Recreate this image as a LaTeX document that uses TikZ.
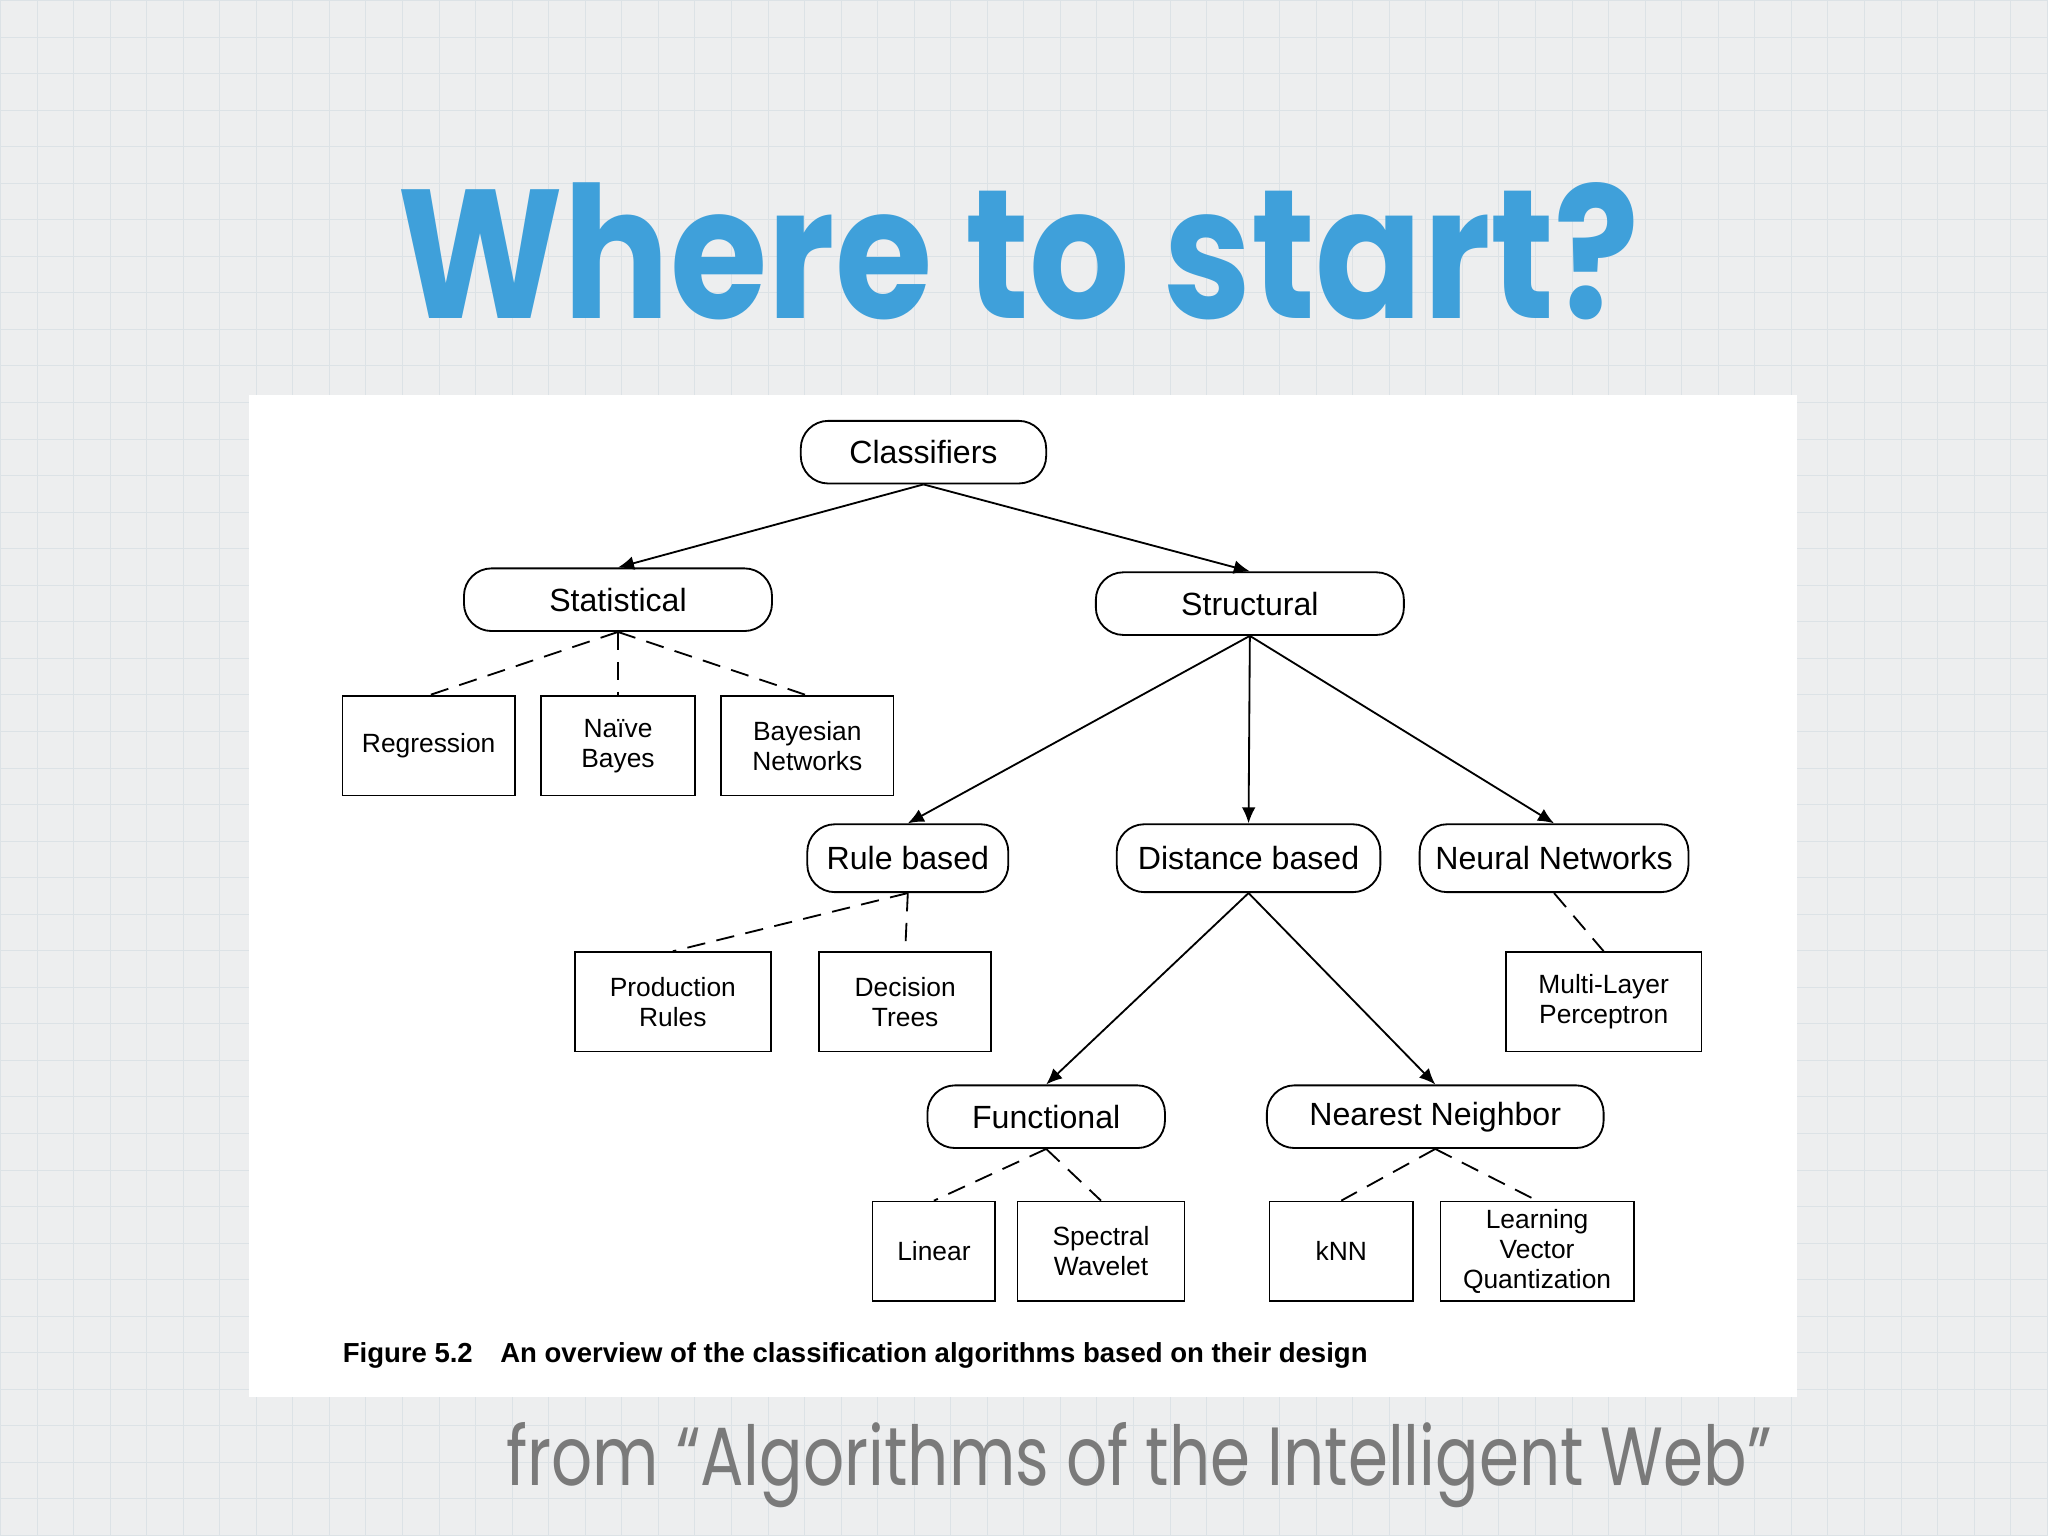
\documentclass[tikz,border=0pt]{standalone}
\usepackage{fontspec}
\setmainfont{Liberation Sans}
\newfontfamily\titlefont{Poppins}
\usetikzlibrary{arrows.meta}
\definecolor{bgc}{HTML}{EDEEEF}
\definecolor{gridc}{HTML}{DCE2E6}
\definecolor{titc}{HTML}{3FA0DA}
\definecolor{footc}{HTML}{7A7A7A}
\begin{document}
\begin{tikzpicture}[x=0.02cm,y=-0.02cm,
 rnode/.style={draw,thick,rounded corners=12pt,minimum height=0.96cm,font=\fontsize{14}{16}\selectfont,inner sep=0pt},
 leaf/.style={draw,thick,minimum height=1.52cm,font=\fontsize{11.5}{13}\selectfont,align=center,inner sep=0pt},
 arr/.style={thick,-{Latex[length=7pt,width=6pt]}},
 dsh/.style={thick,dashed,dash pattern=on 8pt off 5pt}]
\fill[bgc] (0,0) rectangle (1568,1176);
\draw[gridc,step=0.56cm] (0,0) grid (1568,1176);
\useasboundingbox (0,0) rectangle (1568,1176);
\fill[white] (190,302) rectangle (1376,1070);
\node[text=titc,font=\titlefont\bfseries\fontsize{80}{84}\selectfont] (title) at (780,192) {\scalebox{0.86}[1]{Where to start?}};
\node[text=footc,font=\titlefont\fontsize{36}{40}\selectfont] (foot) at (872,1122) {\scalebox{0.78}[1]{from “Algorithms of the Intelligent Web”}};
\node[rnode,minimum width=3.76cm] (cls) at (707,346) {Classifiers};
\node[rnode,minimum width=4.72cm] (sta) at (473,459) {Statistical};
\node[rnode,minimum width=4.72cm] (str) at (957,462) {Structural};
\node[rnode,minimum width=3.08cm,minimum height=1.04cm] (rul) at (695,657) {Rule based};
\node[rnode,minimum width=4.04cm,minimum height=1.04cm] (dis) at (956,657) {Distance based};
\node[rnode,minimum width=4.12cm,minimum height=1.04cm] (neu) at (1190,657) {Neural Networks};
\node[rnode,minimum width=3.64cm] (fun) at (801,855) {Functional};
\node[rnode,minimum width=5.16cm] (nea) at (1099,855) {Nearest Neighbor};
\node[leaf,minimum width=2.64cm] (reg) at (328,571) {Regression};
\node[leaf,minimum width=2.36cm] (nai) at (473,571) {Naïve\\Bayes};
\node[leaf,minimum width=2.64cm] (bay) at (618,571) {Bayesian\\Networks};
\node[leaf,minimum width=3.0cm] (pro) at (515,767) {Production\\Rules};
\node[leaf,minimum width=2.64cm] (dec) at (693,767) {Decision\\Trees};
\node[leaf,minimum width=3.0cm] (mlp) at (1228,767) {Multi-Layer\\Perceptron};
\node[leaf,minimum width=1.88cm] (lin) at (715,958) {Linear};
\node[leaf,minimum width=2.56cm] (spe) at (843,958) {Spectral\\Wavelet};
\node[leaf,minimum width=2.2cm] (knn) at (1027,958) {kNN};
\node[leaf,minimum width=2.96cm] (lvq) at (1177,958) {Learning\\Vector\\Quantization};
\draw[arr] (cls.south) -- (sta.north);
\draw[arr] (cls.south) -- (str.north);
\draw[arr] (str.south) -- (rul.north);
\draw[arr] (str.south) -- (dis.north);
\draw[arr] (str.south) -- (neu.north);
\draw[arr] (dis.south) -- (fun.north);
\draw[arr] (dis.south) -- (nea.north);
\foreach \a/\b in {sta/reg,sta/nai,sta/bay,rul/pro,rul/dec,neu/mlp,fun/lin,fun/spe,nea/knn,nea/lvq}
  \draw[dsh] (\a.south) -- (\b.north);
\node[anchor=west,font=\bfseries\fontsize{12}{14}\selectfont] (cap) at (256,1038) {Figure 5.2\hspace{1em}An overview of the classification algorithms based on their design};
\end{tikzpicture}
\end{document}
